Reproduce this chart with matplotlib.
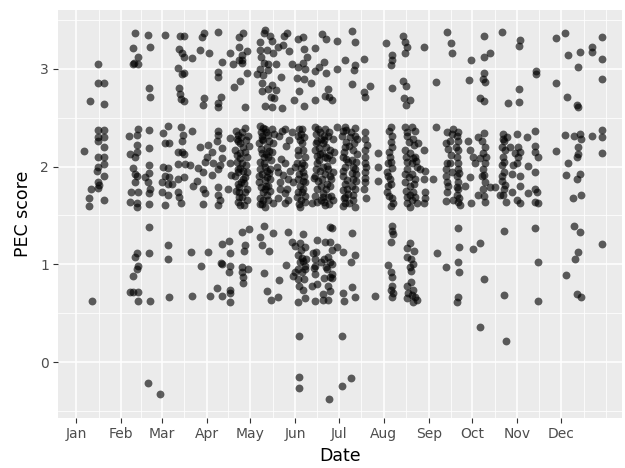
import numpy as np
import pandas as pd
import matplotlib
matplotlib.use("Agg")
import matplotlib.pyplot as plt

# ------------------------------
# data: (day of year, PEC score), grouped by month
# ------------------------------
jan = [(15.2, 3.05), (15.2, 2.85), (19.3, 2.85), (9.6, 2.67), (19.3, 2.64),
       (15.2, 2.37), (19.3, 2.37), (15.2, 2.30), (19.3, 2.30), (15.2, 2.26), (5.5, 2.16), (19.3, 2.20),
       (15.2, 2.10), (19.3, 2.10), (19.3, 2.03), (15.2, 2.00), (14.5, 1.95), (19.3, 1.90), (15.2, 1.84),
       (15.8, 1.81), (10.3, 1.77), (15.2, 1.78), (9.0, 1.68), (19.3, 1.66), (9.0, 1.60),
       (11.0, 0.63)]

feb = [(40.6, 3.37), (39.3, 3.21), (42.7, 3.12), (39.9, 3.06), (39.3, 3.05), (42.7, 3.05), (49.6, 3.34),
       (51.0, 3.22), (50.3, 2.80), (51.0, 2.71),
       (42.7, 2.38), (36.5, 2.31), (42.0, 2.32), (42.0, 2.22), (37.2, 2.13), (40.6, 2.10), (42.0, 2.15),
       (39.3, 1.99), (40.6, 1.92), (40.6, 1.84), (42.0, 1.90), (37.9, 1.74), (42.7, 1.74), (37.2, 1.64),
       (42.0, 1.63), (42.0, 1.59), (47.5, 1.89),
       (50.3, 2.37), (50.3, 2.19), (50.3, 2.02), (50.3, 1.93), (49.6, 1.84), (51.0, 1.77), (50.3, 1.73),
       (50.3, 1.62),
       (42.0, 1.12), (40.6, 1.08), (42.7, 0.98), (42.0, 0.95), (39.3, 0.88), (37.2, 0.72), (39.3, 0.72),
       (42.7, 0.72), (42.7, 0.63), (50.3, 1.38), (50.3, 1.12), (51.0, 0.63),
       (49.6, -0.21), (57.9, -0.32)]

mar = [(61.3, 3.34), (71.6, 3.33), (74.4, 3.33), (88.2, 3.37), (86.8, 3.32), (70.9, 3.20), (73.0, 3.16),
       (74.4, 3.12), (79.9, 3.11), (85.4, 3.19), (70.2, 3.01), (73.0, 2.95), (74.4, 2.96), (70.9, 2.80),
       (71.6, 2.74), (74.4, 2.67), (72.3, 2.69), (88.2, 2.70), (87.5, 2.63),
       (59.9, 2.34), (63.4, 2.41), (61.3, 2.24), (64.0, 2.24), (72.3, 2.40), (73.7, 2.32), (73.0, 2.26),
       (79.9, 2.36), (73.0, 2.15), (70.2, 2.15), (74.4, 2.13), (85.4, 2.20), (59.9, 2.00), (63.4, 1.99),
       (61.3, 1.90), (59.2, 1.84), (70.2, 2.03), (75.1, 2.03), (78.5, 2.02), (84.0, 1.99), (87.5, 1.94),
       (88.8, 2.05), (70.2, 1.87), (74.4, 1.89), (64.0, 1.89), (63.4, 1.82), (66.1, 1.82), (59.2, 1.74),
       (63.4, 1.71), (70.2, 1.74), (70.9, 1.69), (72.3, 1.63), (83.3, 1.85), (80.6, 1.80), (87.5, 1.77),
       (88.8, 1.73), (61.3, 1.61), (87.5, 1.62),
       (63.4, 1.20), (63.4, 1.06), (79.2, 1.13), (86.1, 0.98), (64.0, 0.67), (79.9, 0.68)]

apr = [(97.8, 3.38), (91.6, 3.16), (106.1, 3.16), (100.6, 3.07), (108.1, 3.05), (112.3, 3.09), (97.8, 2.97),
       (97.8, 2.92), (99.9, 2.71), (97.8, 2.65), (97.8, 2.61), (108.8, 2.81), (115.0, 3.37), (112.3, 3.32),
       (112.3, 3.22), (117.8, 3.18), (114.3, 3.14), (114.3, 3.09), (114.3, 3.06), (117.8, 2.96),
       (112.9, 2.87), (116.4, 2.61),
       (90.9, 2.22), (93.7, 2.15), (90.2, 2.10), (97.8, 2.36), (97.8, 2.32), (97.1, 2.26), (100.6, 2.19),
       (100.6, 2.09), (106.1, 2.29), (111.6, 2.32), (94.4, 2.04), (97.8, 1.97), (99.2, 2.02), (93.7, 1.91),
       (106.1, 2.04), (106.7, 1.91), (111.6, 1.94), (97.8, 1.79), (97.8, 1.71), (99.2, 1.66), (104.7, 1.77),
       (111.6, 1.82), (112.3, 1.74), (97.8, 1.61), (112.9, 1.61),
       (116.4, 2.39), (114.3, 2.35), (111.6, 2.26), (115.0, 2.20), (112.9, 2.14), (117.8, 2.10),
       (114.3, 2.04), (111.6, 1.97), (117.8, 1.94), (115.0, 1.87), (112.3, 1.79), (116.4, 1.74),
       (114.3, 1.69), (111.6, 1.64), (115.7, 1.61), (109.5, 2.17), (109.5, 1.90), (112.9, 2.24),
       (118.5, 2.31),
       (90.9, 1.13), (100.6, 1.21), (105.4, 1.24), (106.1, 1.12), (99.9, 1.01), (100.6, 1.00), (106.1, 0.98),
       (105.4, 0.92), (97.1, 0.76), (100.6, 0.68), (106.1, 0.74), (106.1, 0.71), (106.1, 0.62), (92.3, 0.68),
       (114.3, 1.33), (119.1, 1.36), (116.4, 1.20), (115.7, 1.14), (114.3, 0.97), (118.5, 0.95),
       (114.3, 0.92), (115.0, 0.87), (115.0, 0.81)]

may = [(130.2, 3.40), (129.5, 3.36), (126.7, 3.27), (135.0, 3.28), (139.1, 3.22), (145.3, 3.37),
       (143.3, 3.33), (142.6, 3.24), (126.7, 3.19), (131.5, 3.19), (135.7, 3.16), (129.5, 3.06),
       (132.2, 3.05), (126.7, 3.00), (132.2, 2.99), (128.8, 2.94), (128.1, 2.85), (135.0, 2.83),
       (128.1, 2.77), (132.2, 2.79), (134.3, 2.71), (136.4, 2.70), (130.2, 2.62), (135.0, 2.61),
       (141.9, 2.60), (148.8, 3.05),
       (126.7, 2.41), (130.2, 2.38), (128.1, 2.31), (132.2, 2.32), (126.0, 2.24), (131.5, 2.20),
       (128.1, 2.14), (132.2, 2.10), (126.7, 2.05), (130.2, 2.00), (133.6, 1.97), (128.1, 1.92),
       (131.5, 1.89), (126.0, 1.84), (132.2, 1.80), (128.8, 1.74), (126.7, 1.68), (132.2, 1.66),
       (130.2, 1.59), (135.0, 2.38), (135.7, 2.24), (136.4, 2.33), (138.4, 2.00), (139.1, 1.94),
       (140.5, 1.77), (143.9, 2.04), (145.3, 1.77), (146.0, 1.87), (139.1, 1.68), (143.9, 1.63),
       (143.9, 2.38), (148.8, 2.35), (150.8, 2.00), (149.4, 1.84),
       (129.5, 1.39), (126.7, 1.28), (128.1, 1.20), (132.9, 1.14), (135.7, 1.32), (146.0, 1.33),
       (148.8, 1.23), (129.5, 0.91), (131.5, 0.73), (134.3, 0.64), (139.1, 0.67), (139.8, 0.84),
       (144.6, 0.99), (149.4, 0.88), (150.8, 0.92), (150.8, 1.19)]

jun = [(152.9, 3.02), (157.7, 3.00), (156.3, 3.06), (156.3, 3.32), (157.0, 3.20), (164.6, 3.21),
       (164.6, 2.98), (157.0, 2.89), (153.6, 2.77), (150.1, 2.68), (157.0, 2.62), (164.6, 2.68),
       (169.4, 3.35), (172.2, 3.30), (170.8, 3.07), (172.2, 2.96), (173.6, 2.79), (171.5, 2.72),
       (174.2, 2.71), (176.3, 2.68), (179.8, 3.28), (179.8, 3.00),
       (152.9, 2.31), (155.6, 2.38), (155.6, 2.24), (152.9, 2.17), (157.7, 2.10), (155.6, 2.04),
       (156.3, 1.94), (152.9, 1.87), (157.7, 1.84), (155.6, 1.74), (152.2, 1.69), (157.7, 1.64),
       (154.3, 1.59), (164.6, 2.40), (168.0, 2.35), (171.5, 2.38), (166.0, 2.26), (170.1, 2.24),
       (173.6, 2.31), (164.6, 2.17), (169.4, 2.14), (172.9, 2.09), (166.0, 2.04), (170.1, 2.00),
       (173.6, 1.97), (164.6, 1.90), (169.4, 1.87), (172.9, 1.82), (166.0, 1.77), (170.1, 1.73),
       (173.6, 1.69), (166.0, 1.64), (171.5, 1.61), (174.9, 2.17), (162.5, 1.63), (177.0, 2.28),
       (176.3, 2.07), (175.6, 1.87), (177.0, 1.66), (179.8, 2.40),
       (152.9, 1.10), (155.6, 1.07), (154.3, 1.02), (156.3, 1.03), (157.7, 0.98), (152.9, 0.95),
       (155.6, 0.92), (152.9, 0.85), (157.7, 0.95), (163.2, 1.12), (165.3, 1.13), (164.6, 1.05),
       (164.6, 0.98), (164.6, 0.90), (170.8, 1.05), (173.6, 1.08), (172.2, 0.97), (174.9, 1.02),
       (171.5, 1.23), (174.9, 1.23), (174.9, 0.87), (174.9, 1.38), (162.5, 0.78), (156.3, 0.74),
       (157.7, 0.66), (152.9, 0.62), (164.6, 0.63), (170.1, 0.64), (173.6, 0.64), (154.3, 1.22),
       (156.3, 1.31), (176.3, 1.37), (176.3, 1.15), (176.3, 1.00), (172.9, 0.95), (176.3, 0.90),
       (176.3, 0.86), (174.9, 0.73),
       (153.6, 0.27), (153.6, -0.15), (153.6, -0.26), (174.2, -0.38)]

jul = [(190.1, 3.39), (192.1, 3.27), (185.3, 3.09), (192.1, 3.04), (191.5, 2.99), (198.3, 3.10),
       (190.1, 2.84), (202.5, 2.82), (198.3, 2.76), (199.0, 2.71),
       (185.3, 2.40), (192.1, 2.39), (183.2, 2.31), (188.7, 2.30), (193.5, 2.28), (185.3, 2.20),
       (190.8, 2.17), (183.9, 2.10), (190.1, 2.07), (185.3, 2.00), (192.1, 1.97), (183.9, 1.90),
       (190.8, 1.87), (185.3, 1.82), (192.1, 1.77), (185.3, 1.69), (190.8, 1.66), (185.3, 1.63),
       (192.1, 1.59), (199.0, 2.28), (199.0, 2.17), (199.0, 2.10), (199.0, 2.04), (199.0, 1.94),
       (199.0, 1.84), (198.3, 1.77), (208.0, 2.14), (208.0, 2.00), (208.0, 1.85),
       (190.1, 1.32), (179.8, 1.18), (183.9, 1.13), (192.1, 1.10), (189.4, 1.02), (183.9, 0.71),
       (190.1, 0.77), (184.6, 0.63), (192.1, 0.67), (205.9, 0.68),
       (183.2, 0.27), (189.4, -0.16), (183.2, -0.24)]

aug = [(213.5, 3.26), (217.6, 3.14), (217.6, 3.09), (216.9, 3.04), (225.2, 3.33), (226.6, 3.27),
       (228.0, 3.22), (226.6, 3.16), (217.6, 2.80), (225.2, 2.87), (227.3, 2.82), (225.9, 2.70),
       (230.0, 2.68), (227.3, 2.63), (239.7, 3.22),
       (216.9, 2.40), (217.6, 2.31), (217.6, 2.20), (216.3, 2.10), (214.9, 2.04), (217.6, 1.99),
       (214.2, 1.94), (216.3, 1.87), (214.9, 1.80), (214.2, 1.74), (217.6, 1.68), (218.3, 1.63),
       (226.6, 2.40), (231.4, 2.40), (233.5, 2.36), (228.0, 2.31), (232.1, 2.28), (235.5, 2.24),
       (226.6, 2.17), (230.0, 2.14), (233.5, 2.10), (228.0, 2.05), (231.4, 2.04), (234.8, 2.00),
       (228.0, 1.97), (231.4, 1.92), (233.5, 1.87), (226.6, 1.84), (230.0, 1.80), (232.1, 1.74),
       (228.0, 1.69), (231.4, 1.66), (234.8, 1.63), (228.0, 1.63), (230.0, 1.59), (236.9, 1.97),
       (239.7, 2.17), (240.4, 1.95), (239.7, 1.87), (240.4, 1.74), (240.4, 1.68), (239.7, 1.63),
       (217.6, 1.39), (217.6, 1.34), (218.3, 1.31), (216.9, 1.23), (214.9, 0.99), (216.9, 0.92),
       (217.6, 0.87), (217.6, 0.78), (216.9, 0.74), (218.3, 0.71), (217.6, 0.67), (230.0, 1.22),
       (228.0, 1.17), (232.8, 1.14), (228.0, 1.08), (230.7, 1.05), (232.1, 1.00), (230.0, 0.97),
       (230.7, 0.93), (230.7, 0.82), (228.0, 0.78), (232.1, 0.74), (228.7, 0.71), (231.4, 0.69),
       (233.5, 0.67), (228.0, 0.66), (232.1, 0.62), (234.8, 0.64)]

sep = [(255.5, 3.38), (258.3, 3.26), (258.9, 3.16), (247.9, 2.86), (270.7, 2.88), (272.0, 3.09),
       (247.9, 2.40), (245.9, 1.87), (255.5, 2.35), (254.8, 2.24), (255.5, 2.04), (254.8, 1.90),
       (255.5, 1.84), (255.5, 1.74), (254.8, 1.65), (258.9, 2.33), (257.6, 2.26), (258.3, 2.12),
       (257.6, 2.04), (258.9, 1.94), (262.4, 2.31), (263.1, 2.35), (263.1, 2.26), (263.1, 2.17),
       (262.4, 2.10), (263.1, 2.04), (263.1, 1.97), (262.4, 1.90), (263.1, 1.84), (263.1, 1.77),
       (262.4, 1.71), (263.1, 1.64), (264.5, 1.61), (259.6, 1.66), (267.9, 1.80), (272.0, 1.63),
       (270.0, 2.26), (271.3, 2.17), (271.3, 1.89),
       (248.6, 1.12), (254.8, 0.97), (263.1, 1.37), (263.8, 1.18), (263.1, 1.02), (263.8, 0.92),
       (263.1, 0.67), (262.4, 0.62)]

oct_ = [(281.0, 3.33), (285.1, 3.16), (281.0, 3.12), (293.4, 3.38), (281.0, 2.96), (280.3, 2.89),
        (281.7, 2.86), (278.2, 2.70), (281.0, 2.67), (297.5, 2.65),
        (273.4, 2.10), (274.8, 2.04), (276.9, 2.30), (279.6, 2.26), (281.7, 2.20), (280.3, 2.14),
        (278.2, 2.09), (281.7, 2.04), (280.3, 1.97), (279.6, 1.90), (281.7, 1.84), (280.3, 1.77),
        (276.9, 1.71), (281.7, 1.64), (285.1, 1.79), (288.6, 1.79), (294.1, 2.33), (294.8, 2.26),
        (293.4, 2.20), (295.5, 2.17), (294.1, 2.10), (293.4, 2.02), (294.8, 1.94), (293.4, 1.85),
        (294.8, 1.77), (294.1, 1.71), (296.1, 1.64), (296.8, 2.30), (292.0, 1.71), (298.9, 2.20),
        (301.0, 2.02), (300.3, 1.92), (300.3, 1.74),
        (273.4, 1.16), (278.2, 1.22), (281.0, 0.85), (294.8, 1.34), (294.8, 0.69),
        (278.2, 0.36), (296.1, 0.22)]

nov = [(305.8, 3.29), (305.1, 3.23), (316.8, 2.98), (316.8, 2.95), (330.6, 2.85), (330.6, 3.31),
       (305.1, 2.79), (305.1, 2.66),
       (303.7, 2.33), (310.6, 2.30), (316.1, 2.36), (304.4, 2.20), (305.8, 2.15), (304.4, 2.10),
       (302.3, 2.14), (316.1, 2.21), (316.1, 2.15), (318.2, 2.10), (303.7, 2.04), (311.3, 2.01),
       (305.8, 1.90), (316.1, 1.94), (305.8, 1.80), (311.3, 1.73), (316.1, 1.77), (317.5, 1.74),
       (303.7, 1.66), (305.8, 1.63), (316.1, 1.64), (318.2, 1.63), (330.6, 2.16),
       (316.1, 1.37), (318.2, 1.02), (318.2, 0.63)]

dec = [(336.8, 3.37), (362.3, 3.32), (338.8, 3.14), (347.1, 3.17), (355.4, 3.22), (355.4, 3.17),
       (362.3, 3.10), (345.7, 3.02), (362.3, 2.89), (338.2, 2.71), (345.0, 2.63), (345.7, 2.61),
       (336.8, 2.32), (343.0, 2.31), (347.1, 2.33), (347.8, 2.28), (345.7, 2.20), (345.7, 2.13),
       (345.0, 2.10), (338.8, 2.04), (355.4, 2.31), (362.3, 2.30), (362.3, 2.37), (362.3, 2.14),
       (337.5, 1.91), (347.1, 1.92), (345.0, 1.87), (342.3, 1.68), (347.8, 1.71),
       (343.0, 1.39), (347.1, 1.33), (362.3, 1.21), (345.7, 1.13), (343.7, 1.05), (337.5, 0.89),
       (345.0, 0.70), (347.8, 0.67)]

# points hidden inside the dark blobs (estimated, blobs too dense to read one by one)
dense_apr_may = [(110.2, 2.36), (111.0, 2.05), (110.5, 1.75), (113.5, 2.30), (113.0, 1.99), (116.9, 2.27),
                 (117.2, 2.02), (116.0, 1.83), (118.0, 1.66), (110.8, 2.12), (114.8, 1.95), (117.5, 1.77),
                 (113.6, 1.84), (116.2, 2.15), (119.0, 2.21), (112.0, 1.69),
                 (127.2, 2.35), (129.0, 2.27), (131.0, 2.35), (133.2, 2.26), (127.5, 2.18), (129.8, 2.10),
                 (133.0, 2.16), (127.0, 1.97), (129.3, 2.04), (131.8, 1.95), (134.5, 2.07), (127.7, 1.79),
                 (129.9, 1.86), (133.8, 1.87), (126.4, 1.62), (129.0, 1.66), (131.2, 1.71), (133.9, 1.75),
                 (135.4, 1.63), (128.5, 2.39), (130.7, 1.80), (134.8, 2.15),
                 (139.8, 2.31), (141.0, 2.08), (142.5, 1.91), (144.7, 2.21), (146.5, 2.27), (140.2, 1.84),
                 (145.8, 1.66), (142.0, 2.36), (147.5, 1.95), (144.2, 1.73),
                 (127.5, 3.12), (133.5, 3.33), (138.0, 3.05), (141.0, 2.92), (146.8, 3.18), (124.5, 2.95),
                 (137.5, 2.78),
                 (127.9, 2.28), (130.9, 2.13), (126.2, 1.90), (130.1, 1.77), (133.1, 1.93), (128.4, 1.62),
                 (113.2, 2.09), (116.7, 1.89), (110.9, 2.28)]

dense_jun = [(153.5, 2.38), (154.0, 2.27), (156.8, 2.30), (153.2, 2.12), (156.5, 2.17), (154.8, 1.99),
             (157.3, 2.02), (153.7, 1.92), (156.9, 1.90), (154.5, 1.80), (153.1, 1.74), (156.6, 1.77),
             (155.2, 1.66), (153.9, 1.62), (157.4, 1.70), (152.4, 2.04),
             (165.2, 2.33), (167.1, 2.19), (168.6, 2.28), (170.9, 2.31), (172.5, 2.20), (174.3, 2.35),
             (165.7, 2.11), (167.5, 2.07), (171.2, 2.10), (174.0, 2.12), (165.0, 1.98), (168.2, 1.95),
             (171.8, 1.92), (174.6, 1.90), (166.4, 1.85), (169.0, 1.80), (172.0, 1.77), (175.0, 1.80),
             (164.9, 1.70), (168.5, 1.66), (170.8, 1.64), (174.0, 1.62), (176.8, 1.94), (177.5, 2.15),
             (163.6, 1.88), (166.8, 2.38),
             (153.0, 3.30), (158.8, 3.12), (161.5, 2.85), (167.5, 3.02), (152.0, 2.90),
             (155.0, 1.15), (158.2, 1.05), (153.8, 0.78), (156.9, 0.85), (166.0, 0.80), (168.5, 1.02),
             (171.0, 0.86), (173.8, 0.78), (165.8, 1.25), (170.0, 0.70),
             (154.9, 2.33), (156.1, 1.85), (167.9, 2.13), (172.8, 2.01), (169.8, 1.69), (165.4, 2.24),
             (175.5, 1.70), (171.0, 2.27), (163.9, 0.96), (158.0, 1.18)]

dense_jul_aug = [(183.6, 2.36), (186.0, 2.25), (189.3, 2.35), (191.5, 2.24), (193.8, 2.13), (184.5, 2.15),
                 (187.4, 2.05), (190.7, 2.00), (192.8, 1.92), (184.2, 1.95), (186.8, 1.86), (189.8, 1.80),
                 (192.5, 1.85), (183.7, 1.76), (187.2, 1.72), (191.0, 1.71), (184.0, 1.60), (188.0, 1.63),
                 (186.0, 2.37), (193.0, 2.05),
                 (198.7, 2.35), (199.6, 2.00), (198.9, 1.88), (199.4, 1.68), (200.2, 2.22),
                 (215.5, 2.36), (216.8, 2.25), (215.6, 2.15), (217.2, 2.05), (215.0, 1.90), (217.0, 1.82),
                 (215.8, 1.70), (216.9, 1.60),
                 (227.6, 2.35), (229.6, 2.25), (233.0, 2.22), (227.2, 2.10), (231.8, 2.09), (234.2, 2.06),
                 (226.9, 1.92), (229.3, 1.89), (232.9, 1.82), (227.4, 1.75), (229.8, 1.71), (233.6, 1.69),
                 (188.2, 2.21), (185.8, 2.08), (190.0, 1.93), (186.5, 1.77), (191.8, 2.31), (184.8, 1.68)]

dense_sep_oct = [(256.1, 2.18), (255.0, 1.98), (256.0, 1.80), (259.5, 2.38), (262.0, 2.20), (263.6, 1.93),
                 (262.6, 1.79), (263.9, 1.68),
                 (280.8, 2.34), (282.1, 2.10), (280.7, 1.91), (281.2, 1.70), (293.9, 2.28), (295.0, 2.05),
                 (293.6, 1.90), (295.2, 1.81)]

month_labels = ["Jan", "Feb", "Mar", "Apr", "May", "Jun",
                "Jul", "Aug", "Sep", "Oct", "Nov", "Dec"]

# ------------------------------
# build the frame
# ------------------------------
start = pd.Timestamp("2019-01-01")
pts = np.array(jan + feb + mar + apr + may + jun + jul + aug + sep + oct_ + nov + dec
               + dense_apr_may + dense_jun + dense_jul_aug + dense_sep_oct)
df = pd.DataFrame({"doy": pts[:, 0], "pec": pts[:, 1]})
df["date"] = start + pd.to_timedelta(df["doy"], unit="D")

# ------------------------------
# plot (ggplot-like grey theme)
# ------------------------------
fig = plt.figure(figsize=(6.25, 4.68), dpi=100)
ax = fig.add_axes([58 / 625, 1 - 418 / 468, (622 - 58) / 625, (418 - 10) / 468])
ax.set_facecolor("#EBEBEB")

major = pd.date_range("2019-01-01", periods=12, freq="MS")
edges = pd.date_range("2019-01-01", periods=13, freq="MS")
minor = list(edges[:-1] + (edges[1:] - edges[:-1]) / 2) + [edges[-1]]

ax.set_xlim(start + pd.Timedelta(days=-12.4), start + pd.Timedelta(days=376))
ax.set_ylim(-0.57, 3.60)

for d in minor:
    ax.axvline(d, color="white", lw=0.55, zorder=0)
for d in major:
    ax.axvline(d, color="white", lw=1.1, zorder=0)
for v in [-0.5, 0.5, 1.5, 2.5, 3.5]:
    ax.axhline(v, color="white", lw=0.55, zorder=0)
for v in [0, 1, 2, 3]:
    ax.axhline(v, color="white", lw=1.1, zorder=0)

ax.scatter(df["date"], df["pec"], s=32, color="black", alpha=0.62, linewidths=0, zorder=3)

ax.set_xticks(major)
ax.set_xticklabels(month_labels)
ax.set_yticks([0, 1, 2, 3])
ax.set_yticklabels(["0", "1", "2", "3"])
ax.tick_params(axis="both", length=3.5, width=0.8, color="#333333",
               labelsize=10, labelcolor="#4D4D4D", pad=3)
for s in ax.spines.values():
    s.set_visible(False)

ax.set_xlabel("Date", fontsize=12.5, labelpad=4)
ax.set_ylabel("PEC score", fontsize=12.5, labelpad=6)

fig.savefig("out.png", dpi=100)
